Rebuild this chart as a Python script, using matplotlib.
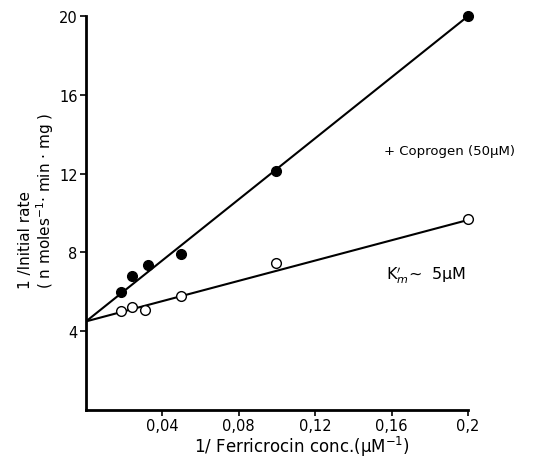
import matplotlib
matplotlib.use("Agg")
import matplotlib.pyplot as plt

plt.rcParams['font.family'] = ['DejaVu Sans']

# Data
x_filled = [0.0185, 0.0242, 0.0326, 0.0495, 0.0997, 0.2]
y_filled = [6.0, 6.8, 7.35, 7.9, 12.15, 20.0]
x_open = [0.0185, 0.0242, 0.031, 0.0495, 0.0997, 0.2]
y_open = [5.05, 5.22, 5.1, 5.8, 7.45, 9.7]
line_filled_x = [0.0, 0.2]
line_filled_y = [4.5, 20.0]
line_open_x = [0.0, 0.2]
line_open_y = [4.5, 9.65]
xticks = [0.04, 0.08, 0.12, 0.16, 0.2]
xtick_labels = ["0,04", "0,08", "0,12", "0,16", "0,2"]
yticks = [4, 8, 12, 16, 20]
ytick_labels = ["4", "8", "12", "16", "20"]

fig = plt.figure(figsize=(5.33, 4.64), dpi=100)
ax = fig.add_axes([0.1614, 0.1142, 0.878 - 0.1614, 0.963 - 0.1142])

ax.plot(line_filled_x, line_filled_y, color='black', lw=1.5, zorder=2)
ax.plot(line_open_x, line_open_y, color='black', lw=1.5, zorder=2)
ax.plot(x_filled, y_filled, 'o', color='black', ms=7, zorder=3, clip_on=False)
ax.plot(x_open, y_open, 'o', mfc='white', mec='black', mew=1.0, ms=7, zorder=3,
        clip_on=False)

ax.set_xlim(0, 0.2)
ax.set_ylim(0, 20)
ax.set_xticks(xticks)
ax.set_xticklabels(xtick_labels, fontsize=10.5)
ax.set_yticks(yticks)
ax.set_yticklabels(ytick_labels, fontsize=10.5)
ax.tick_params(axis='both', length=4, width=1.2, direction='out', pad=2)

for s in ['top', 'right']:
    ax.spines[s].set_visible(False)
for s in ['left', 'bottom']:
    ax.spines[s].set_linewidth(2)
    ax.spines[s].set_clip_on(False)

fig.text(0.567, 0.036, "1/ Ferricrocin conc.(\u00b5M$^{-1}$)", fontsize=12,
         ha='center', va='center')

fig.text(0.047, 0.378, "1 /Initial rate", rotation=90, fontsize=11,
         ha='center', va='bottom')
fig.text(0.084, 0.378, "( n moles$^{-1}$\u00b7 min \u00b7 mg )", rotation=90,
         fontsize=11, ha='center', va='bottom')

ax.text(0.156, 13.2, "+ Coprogen (50\u00b5M)", fontsize=9.5, ha='left', va='center')
ax.text(0.157, 6.9, "K$_m'$~  5\u00b5M", fontsize=11.5, ha='left', va='center')

fig.savefig("out.png", dpi=100)
